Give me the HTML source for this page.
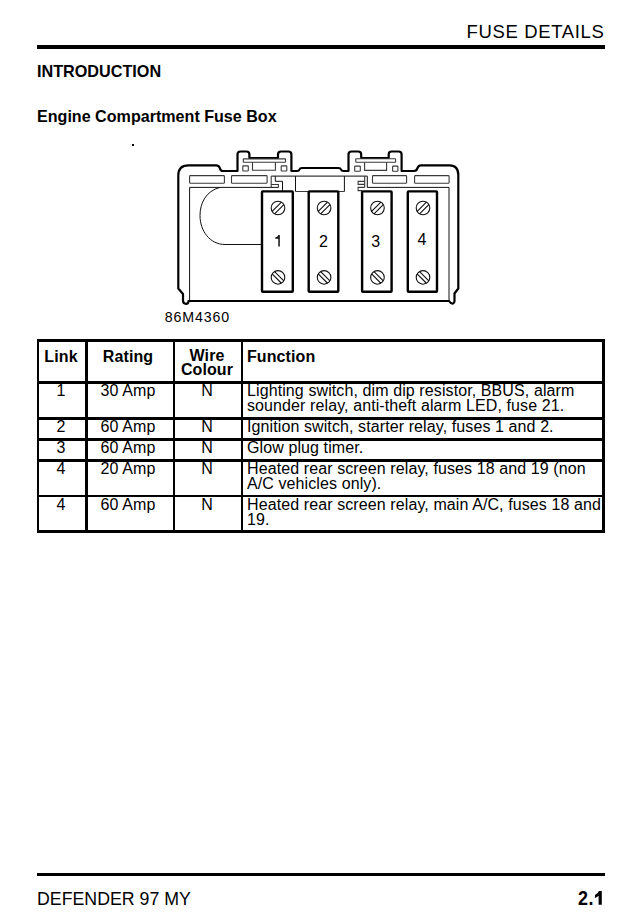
<!DOCTYPE html>
<html><head><meta charset="utf-8">
<style>
html,body{margin:0;padding:0;background:#fff;}
body{width:641px;height:920px;position:relative;overflow:hidden;font-family:"Liberation Sans",sans-serif;color:#000;}
.t{position:absolute;white-space:nowrap;line-height:1;}
.b{font-weight:bold;}
.rule{position:absolute;background:#000;}
.tc,.tl{position:absolute;font-size:16px;line-height:15.2px;white-space:nowrap;letter-spacing:0.1px;}
.tc{text-align:center;transform-origin:50% 0;}
.tl{transform-origin:0 0;}
</style></head><body>
<div class="t" id="hdr" style="left:466.5px;top:22.5px;font-size:18.5px;letter-spacing:0.65px;">FUSE DETAILS</div>
<div class="rule" style="left:37px;top:45px;width:568px;height:4px;"></div>
<div class="t b" id="intro" style="left:37px;top:63px;font-size:16.2px;">INTRODUCTION</div>
<div class="t b" id="engine" style="left:37px;top:107.5px;font-size:16.1px;">Engine Compartment Fuse Box</div>
<div class="rule" style="left:132px;top:144px;width:1.5px;height:1.5px;"></div>

<!--SVG--><svg style="position:absolute;left:0;top:0" width="641" height="340" viewBox="0 0 641 340">
<path d="M188.5,301 L449,301 Q451,304 453,303.5 Q454.8,302.5 454.5,300 L454.5,293.5 L458.3,288.5 L458.3,175 Q458.3,165.3 449.5,165.3 L421,165.3 Q418.5,165.3 417.5,168 Q416.8,171 414,171 L401.6,171 L401.6,154.5 Q401.6,151.5 398.6,151.5 L391.5,151.5 Q388.7,151.5 388.7,154.5 L388.7,158 L361.2,158 L361.2,154.5 Q361.2,151.5 358.2,151.5 L351.5,151.5 Q348.5,151.5 348.5,154.5 L348.5,171 L343.5,171 Q341.5,171 341,169.5 Q340.5,168 338.5,168 L302,168 Q300,168 299.5,169.5 Q299,171 297,171 L291.4,171 L291.4,154.5 Q291.4,151.5 288.4,151.5 L281,151.5 Q278,151.5 278,154.5 L278,158 L249.4,158 L249.4,154.5 Q249.4,151.5 246.4,151.5 L240.5,151.5 Q237.5,151.5 237.5,154.5 L237.5,171 L223,171 Q220.5,171 220,168.5 Q219.2,165.3 216,165.3 L188.5,165.3 Q178.3,165.3 178.3,175.5 L178.3,288.5 L183,294 L183,300.5 Q183,303.8 186,303.8 Q188.5,303.8 188.5,301 Z" fill="none" stroke="#000" stroke-width="2.2" stroke-linejoin="round"/>
<rect x="189.6" y="175.6" width="34.80" height="7.60" rx="0.8" fill="none" stroke="#3a3a3a" stroke-width="1.1"/>
<rect x="231.5" y="175.6" width="35.60" height="7.60" rx="0.8" fill="none" stroke="#3a3a3a" stroke-width="1.1"/>
<rect x="372.5" y="175.6" width="34.10" height="7.60" rx="0.8" fill="none" stroke="#3a3a3a" stroke-width="1.1"/>
<rect x="414.6" y="175.6" width="34.50" height="7.60" rx="0.8" fill="none" stroke="#3a3a3a" stroke-width="1.1"/>
<rect x="243.3" y="158.9" width="42.20" height="3.40" rx="0.5" fill="none" stroke="#3a3a3a" stroke-width="1.1"/>
<rect x="242.8" y="165.9" width="5.50" height="5.10" rx="0.5" fill="none" stroke="#3a3a3a" stroke-width="1.1"/>
<rect x="281.2" y="165.9" width="5.60" height="5.10" rx="0.5" fill="none" stroke="#3a3a3a" stroke-width="1.1"/>
<path d="M252.5,162.3 L252.5,170.2 L275.4,170.2 L275.4,162.3" fill="none" stroke="#3a3a3a" stroke-width="1.1"/>
<rect x="355.8" y="158.8" width="39.80" height="3.50" rx="0.5" fill="none" stroke="#3a3a3a" stroke-width="1.1"/>
<rect x="354.7" y="166.1" width="5.60" height="5.10" rx="0.5" fill="none" stroke="#3a3a3a" stroke-width="1.1"/>
<rect x="392.6" y="166.1" width="5.30" height="5.10" rx="0.5" fill="none" stroke="#3a3a3a" stroke-width="1.1"/>
<path d="M364.6,162.3 L364.6,170.4 L386.6,170.4 L386.6,162.3" fill="none" stroke="#3a3a3a" stroke-width="1.1"/>
<path d="M278.4,187.4 L189.6,187.4 L189.6,301" fill="none" stroke="#111" stroke-width="1"/>
<path d="M367.3,176.1 L367.3,187.4 L449,187.4 L449,301" fill="none" stroke="#111" stroke-width="1"/>
<path d="M271.2,176.1 L367.3,176.1" fill="none" stroke="#3a3a3a" stroke-width="1.1"/>
<path d="M271.2,176.1 L271.2,187.4 M271.2,184.5 L278.4,184.5 L278.4,187.4" fill="none" stroke="#3a3a3a" stroke-width="1.1"/>
<path d="M275.3,176.1 L275.3,181.3 L282.5,181.3 L282.5,191" fill="none" stroke="#111" stroke-width="1"/>
<path d="M295.5,176.1 L295.5,191.5 M344.4,176.1 L344.4,191.5" fill="none" stroke="#111" stroke-width="1"/>
<path d="M295.5,191.5 L344.4,191.5" fill="none" stroke="#3a3a3a" stroke-width="1.1"/>
<path d="M364.7,176.1 L364.7,187.4 M364.7,181.4 L358.1,181.4 L358.1,184.4 L364.7,184.4 M364.7,187.4 L358.1,187.4 L358.1,190.6 L362,190.6" fill="none" stroke="#3a3a3a" stroke-width="1.1"/>
<path d="M220,187.4 C206,191 200,203 200,215.5 C200,231 210,244.5 225,244.5 L262,244.5" fill="none" stroke="#111" stroke-width="1"/>
<rect x="262" y="191.4" width="30.80" height="100.3" rx="0.8" fill="#fff" stroke="#000" stroke-width="2.4"/>
<rect x="308.7" y="191.4" width="29.60" height="100.3" rx="0.8" fill="#fff" stroke="#000" stroke-width="2.4"/>
<rect x="362.1" y="191.4" width="29.50" height="100.3" rx="0.8" fill="#fff" stroke="#000" stroke-width="2.4"/>
<rect x="407.8" y="191.4" width="29.20" height="100.3" rx="0.8" fill="#fff" stroke="#000" stroke-width="2.4"/>
<circle cx="278.0" cy="208" r="6.8" fill="none" stroke="#111" stroke-width="1.1"/>
<line x1="272.14" y1="211.45" x2="281.45" y2="202.14" stroke="#111" stroke-width="1.1"/>
<line x1="274.55" y1="213.86" x2="283.86" y2="204.55" stroke="#111" stroke-width="1.1"/>
<circle cx="278.0" cy="277.4" r="6.8" fill="none" stroke="#111" stroke-width="1.1"/>
<line x1="274.55" y1="271.54" x2="283.86" y2="280.85" stroke="#111" stroke-width="1.1"/>
<line x1="272.14" y1="273.95" x2="281.45" y2="283.26" stroke="#111" stroke-width="1.1"/>
<circle cx="324.1" cy="208" r="6.8" fill="none" stroke="#111" stroke-width="1.1"/>
<line x1="318.24" y1="211.45" x2="327.55" y2="202.14" stroke="#111" stroke-width="1.1"/>
<line x1="320.65" y1="213.86" x2="329.96" y2="204.55" stroke="#111" stroke-width="1.1"/>
<circle cx="324.1" cy="277.4" r="6.8" fill="none" stroke="#111" stroke-width="1.1"/>
<line x1="320.65" y1="271.54" x2="329.96" y2="280.85" stroke="#111" stroke-width="1.1"/>
<line x1="318.24" y1="273.95" x2="327.55" y2="283.26" stroke="#111" stroke-width="1.1"/>
<circle cx="377.45000000000005" cy="208" r="6.8" fill="none" stroke="#111" stroke-width="1.1"/>
<line x1="371.59" y1="211.45" x2="380.90" y2="202.14" stroke="#111" stroke-width="1.1"/>
<line x1="374.00" y1="213.86" x2="383.31" y2="204.55" stroke="#111" stroke-width="1.1"/>
<circle cx="377.45000000000005" cy="277.4" r="6.8" fill="none" stroke="#111" stroke-width="1.1"/>
<line x1="374.00" y1="271.54" x2="383.31" y2="280.85" stroke="#111" stroke-width="1.1"/>
<line x1="371.59" y1="273.95" x2="380.90" y2="283.26" stroke="#111" stroke-width="1.1"/>
<circle cx="423.0" cy="208" r="6.8" fill="none" stroke="#111" stroke-width="1.1"/>
<line x1="417.14" y1="211.45" x2="426.45" y2="202.14" stroke="#111" stroke-width="1.1"/>
<line x1="419.55" y1="213.86" x2="428.86" y2="204.55" stroke="#111" stroke-width="1.1"/>
<circle cx="423.0" cy="277.4" r="6.8" fill="none" stroke="#111" stroke-width="1.1"/>
<line x1="419.55" y1="271.54" x2="428.86" y2="280.85" stroke="#111" stroke-width="1.1"/>
<line x1="417.14" y1="273.95" x2="426.45" y2="283.26" stroke="#111" stroke-width="1.1"/>
</svg><!--/SVG-->
<svg style="position:absolute;left:0;top:0" width="641" height="340"><path d="M275.3,237.4 Q277.7,237.2 278.3,235.1 L279.8,235.1 L279.8,246.6 L278.3,246.6 L278.3,238.7 Q277.2,238.8 275.3,238.8 Z" fill="#111"/></svg>
<div class="t" id="n2" style="left:319px;top:233.5px;font-size:16px;">2</div>
<div class="t" id="n3" style="left:371.3px;top:233.5px;font-size:16px;">3</div>
<div class="t" id="n4" style="left:417.5px;top:232px;font-size:16px;">4</div>
<div class="t" id="lbl" style="left:164.7px;top:309.5px;font-size:14.2px;letter-spacing:0.9px;">86M4360</div>


<!-- table borders -->
<div class="rule" style="left:37px;top:339px;width:568px;height:3px;"></div>
<div class="rule" style="left:37px;top:381px;width:568px;height:3px;"></div>
<div class="rule" style="left:37px;top:417px;width:568px;height:3px;"></div>
<div class="rule" style="left:37px;top:438px;width:568px;height:3px;"></div>
<div class="rule" style="left:37px;top:459px;width:568px;height:3px;"></div>
<div class="rule" style="left:37px;top:495px;width:568px;height:2px;"></div>
<div class="rule" style="left:37px;top:530px;width:568px;height:3px;"></div>
<div class="rule" style="left:37px;top:339px;width:2px;height:194px;"></div>
<div class="rule" style="left:85px;top:339px;width:3px;height:194px;"></div>
<div class="rule" style="left:173px;top:339px;width:2px;height:194px;"></div>
<div class="rule" style="left:241px;top:339px;width:2px;height:194px;"></div>
<div class="rule" style="left:602px;top:339px;width:3px;height:194px;"></div>
<!-- table text -->
<div class="tc b" style="left:38px;width:46px;top:348.6px;">Link</div>
<div class="tc b" style="left:88px;width:80px;top:348.6px;">Rating</div>
<div class="tc b" style="left:174px;width:66px;top:348.8px;line-height:14.4px;">Wire<br>Colour</div>
<div class="tl b" style="left:247px;top:348.6px;">Function</div>

<div class="tc" style="left:38px;width:46px;top:383.1px;">1</div>
<div class="tc" style="left:88px;width:80px;top:383.1px;">30 Amp</div>
<div class="tc" style="left:174px;width:66px;top:383.1px;">N</div>
<div class="tl" style="left:247px;top:383.1px;">Lighting switch, dim dip resistor, BBUS, alarm<br>sounder relay, anti-theft alarm LED, fuse 21.</div>

<div class="tc" style="left:38px;width:46px;top:419.1px;">2</div>
<div class="tc" style="left:88px;width:80px;top:419.1px;">60 Amp</div>
<div class="tc" style="left:174px;width:66px;top:419.1px;">N</div>
<div class="tl" style="left:247px;top:419.1px;">Ignition switch, starter relay, fuses 1 and 2.</div>

<div class="tc" style="left:38px;width:46px;top:440.1px;">3</div>
<div class="tc" style="left:88px;width:80px;top:440.1px;">60 Amp</div>
<div class="tc" style="left:174px;width:66px;top:440.1px;">N</div>
<div class="tl" style="left:247px;top:440.1px;">Glow plug timer.</div>

<div class="tc" style="left:38px;width:46px;top:461.1px;">4</div>
<div class="tc" style="left:88px;width:80px;top:461.1px;">20 Amp</div>
<div class="tc" style="left:174px;width:66px;top:461.1px;">N</div>
<div class="tl" style="left:247px;top:461.1px;">Heated rear screen relay, fuses 18 and 19 (non<br>A/C vehicles only).</div>

<div class="tc" style="left:38px;width:46px;top:497.1px;">4</div>
<div class="tc" style="left:88px;width:80px;top:497.1px;">60 Amp</div>
<div class="tc" style="left:174px;width:66px;top:497.1px;">N</div>
<div class="tl" style="left:247px;top:497.1px;">Heated rear screen relay, main A/C, fuses 18 and<br>19.</div>

<div class="rule" style="left:37px;top:873px;width:568px;height:3px;"></div>
<div class="t" id="foot" style="left:37px;top:891px;font-size:17.75px;">DEFENDER 97 MY</div>
<div class="t b" id="pg" style="left:578px;top:888.8px;font-size:19.5px;transform:scaleX(0.92);letter-spacing:0.6px;transform-origin:0 0;">2.</div>
<svg style="position:absolute;left:0;top:860px" width="641" height="60" viewBox="0 860 641 60"><path d="M601.8,891 L601.8,904.8 L598.6,904.8 L598.6,895.8 Q597.2,897.3 595,898 L595,895 Q597.6,893.9 599,891 Z" fill="#000"/></svg>
</body></html>
